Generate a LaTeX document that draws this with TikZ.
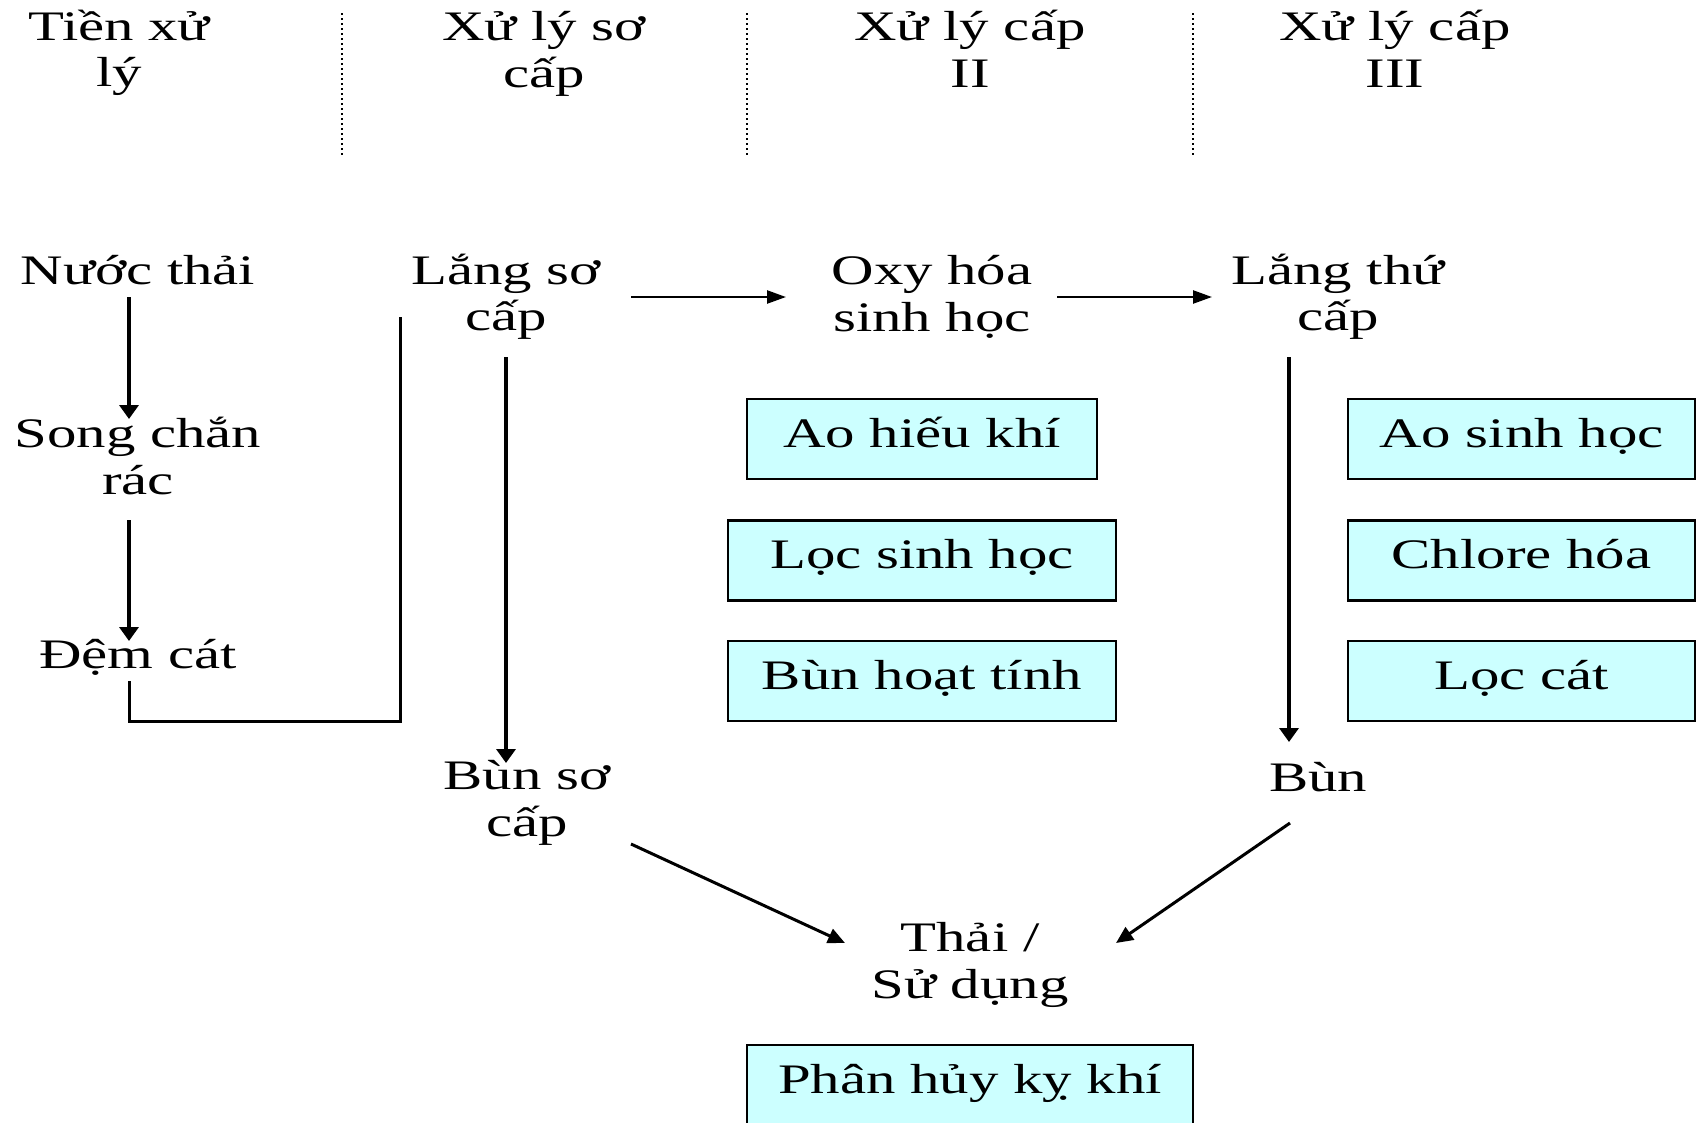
\documentclass[tikz,border=0pt]{standalone}
\usepackage{fontspec}
\setmainfont{Liberation Serif}[FakeStretch=1.4]
\usetikzlibrary{arrows.meta,calc}
\definecolor{boxcyan}{HTML}{CCFFFF}
\tikzset{
  lbl/.style={font=\fontsize{42pt}{46.5pt}\selectfont, align=center, inner sep=0pt},
  pbox/.style={lbl, draw=black, line width=2.2pt, fill=boxcyan, minimum height=80pt,
    text height=30pt, text depth=14pt},
  conn/.style={line width=3pt, draw=black},
  vconn/.style={line width=3.4pt, draw=black},
  hconn/.style={line width=2.4pt, draw=black},
  varr/.style={vconn, -{Triangle[length=14pt,width=19pt]}},
  harr/.style={hconn, -{Triangle[length=19pt,width=13pt]}},
  darr/.style={conn, -{Triangle[length=17pt,width=15pt]}},
  sep/.style={line width=2pt, dash pattern=on 2pt off 3pt}
}
\begin{document}
\begin{tikzpicture}[x=1pt,y=-1pt]
\useasboundingbox[fill=white] (0,0) rectangle (1696,1122);
% column separators
\draw[sep] (342,13) -- (342,157);
\draw[sep] (747,13) -- (747,157);
\draw[sep] (1193,13) -- (1193,157);
% headers
\node[lbl] (h1) at (119,53) {Tiền xử\\lý};
\node[lbl] (h2) at (544,54) {Xử lý sơ\\cấp};
\node[lbl] (h3) at (970,49) {Xử lý cấp\\II};
\node[lbl] (h4) at (1395,49) {Xử lý cấp\\III};
% text nodes
\node[lbl] (nuoc) at (138,270) {Nước thải};
\node[lbl] (song) at (138,456) {Song chắn\\rác};
\node[lbl] (dem) at (138,657) {Đệm cát};
\node[lbl] (lang1) at (506,297) {Lắng sơ\\cấp};
\node[lbl] (oxy) at (932,297) {Oxy hóa\\sinh học};
\node[lbl] (lang2) at (1338,297) {Lắng thứ\\cấp};
\node[lbl] (bun1) at (527,803) {Bùn sơ\\cấp};
\node[lbl] (bun2) at (1318,777) {Bùn};
\node[lbl] (thai) at (970,965) {Thải /\\Sử dụng};
% boxes
\node[pbox, minimum width=350pt] (b1) at (922,439) {Ao hiếu khí};
\node[pbox, minimum width=388pt] (b2) at (922,560.5) {Lọc sinh học};
\node[pbox, minimum width=388pt] (b3) at (922,681) {Bùn hoạt tính};
\node[pbox, minimum width=347pt] (r1) at (1521.5,439) {Ao sinh học};
\node[pbox, minimum width=347pt] (r2) at (1521.5,560.5) {Chlore hóa};
\node[pbox, minimum width=347pt] (r3) at (1521.5,681) {Lọc cát};
\node[pbox, minimum width=446pt] (p1) at (970,1085) {Phân hủy kỵ khí};
% connectors
\coordinate (cx1) at (129,0);
\draw[varr] ($(nuoc.center -| cx1)+(0,27)$) -- ($(song.center -| cx1)+(0,-37)$);
\draw[varr] ($(song.center -| cx1)+(0,64)$) -- ($(dem.center -| cx1)+(0,-16)$);
\draw[conn] ($(dem.center -| cx1)+(0,24)$) -- ($(dem.center -| cx1)+(0,64)$)
  -| ($(lang1.center)+(-106,20)$);
\draw[harr] ($(lang1.center)+(125,0)$) -- ($(oxy.center)+(-146,0)$);
\draw[harr] ($(oxy.center)+(125,0)$) -- ($(lang2.center)+(-126,0)$);
\draw[varr] ($(lang1.center)+(0,60)$) -- ($(bun1.center -| lang1.center)+(0,-40)$);
\draw[varr] ($(lang2.center)+(-49,60)$) -- ($(bun2.center)+(-29,-35)$);
\draw[darr] ($(bun1.center)+(104,41)$) -- ($(thai.center)+(-125,-22)$);
\draw[darr] ($(bun2.center)+(-28,46)$) -- ($(thai.center)+(146,-22)$);
\end{tikzpicture}
\end{document}
